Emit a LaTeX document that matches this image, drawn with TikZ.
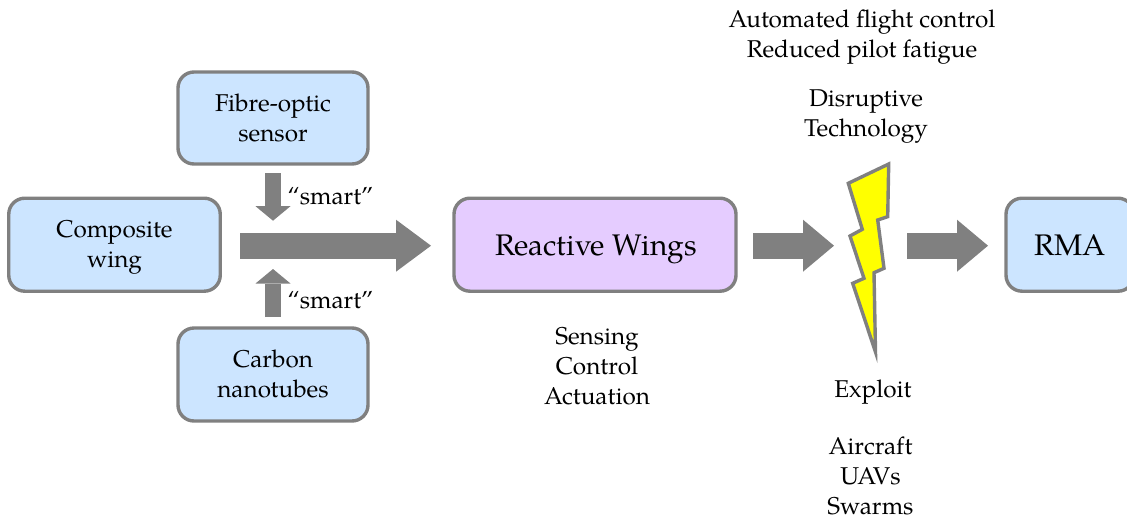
\documentclass[tikz,border=0pt]{standalone}
\usepackage{fontspec}
\usetikzlibrary{arrows.meta}
\setmainfont{TeX Gyre Pagella}
\definecolor{boxblue}{HTML}{CCE5FF}
\definecolor{boxpurple}{HTML}{E5CCFF}
\definecolor{linegray}{HTML}{808080}
\definecolor{boltyellow}{HTML}{FFFF00}
\newcommand{\boxtop}{\rule{0pt}{25pt}}
\newcommand{\bigtop}{\rule{0pt}{31pt}}
\tikzset{
  box/.style={draw=linegray,line width=3.4pt,rounded corners=16pt,fill=boxblue,align=center,inner sep=0pt,outer sep=0pt,font=\fontsize{24.3}{30}\selectfont},
  bigtext/.style={font=\fontsize{29.8}{34}\selectfont},
  label/.style={align=center,inner sep=0pt,font=\fontsize{24.3}{29.7}\selectfont},
  narrow/.style={draw=linegray,line width=16.5pt,-{Triangle[length=14.5pt,width=35pt,line width=0pt]}},
  wide/.style={draw=linegray,line width=26pt,-{Triangle[length=35pt,width=52pt,line width=0pt]}},
  wideshort/.style={draw=linegray,line width=26pt,-{Triangle[length=31pt,width=52pt,line width=0pt]}},
}
\begin{document}
\begin{tikzpicture}[x=1pt,y=-1pt]
\useasboundingbox (0,0) rectangle (1127,520);
\node[box,minimum width=211.5pt,minimum height=93pt] (comp) at (114.5,244.7) {\boxtop Composite\\wing\strut};
\node[box,minimum width=190pt,minimum height=92pt] (fibre) at (273,118) {\boxtop Fibre-optic\\sensor\strut};
\node[box,minimum width=190pt,minimum height=93pt] (carbon) at (273,374.5) {\boxtop Carbon\\nanotubes\strut};
\node[box,bigtext,fill=boxpurple,minimum width=282pt,minimum height=93pt] (react) at (595,244.7) {\bigtop\hspace{2pt}Reactive Wings\strut};
\node[box,bigtext,minimum width=128pt,minimum height=93pt] (rma) at (1070,244.7) {\bigtop RMA\strut};
\coordinate (mainTop) at (273,220.7);
\coordinate (mainBot) at (273,269);
\coordinate (boltL) at (834,245.7);
\coordinate (boltR) at (907,245.7);
\draw[wide,shorten <=20pt,shorten >=23pt] ([yshift=-1pt]comp.east) -- ([yshift=-1pt]react.west);
\draw[narrow,shorten <=9pt] (fibre.south) -- (mainTop);
\draw[narrow,shorten <=11pt] (carbon.north) -- (mainBot);
\draw[wideshort,shorten <=17pt] ([yshift=-1pt]react.east) -- (boltL);
\draw[wideshort,shorten >=18pt] (boltR) -- ([yshift=-1pt]rma.west);
\draw[draw=linegray,fill=boltyellow,line width=3.4pt,miter limit=20]
 (848.3,183.3) -- (888.7,164) -- (887.7,216.7) -- (877.7,220) -- (884,268.3) -- (874,272.7)
 -- (875.5,352) -- (852.7,283.3) -- (864,278.3) -- (850,236) -- (862.3,229.3) -- cycle;
\node[label] (smartA) at (330.5,198.5) {\strut “smart”};
\node[label] (smartB) at (330.5,302.5) {\strut “smart”};
\node[label] (benefits) at (862,36.5) {\strut Automated flight control\\Reduced pilot fatigue\strut};
\node[label] (disrupt) at (866,115.5) {\strut Disruptive\\Technology\strut};
\node[label] (sense) at (597,368.5) {\strut Sensing\\Control\\Actuation\strut};
\node[label] (exploit) at (873,392) {\strut Exploit};
\node[label] (uses) at (870.5,478.5) {\strut Aircraft\\UAVs\\Swarms\strut};
\end{tikzpicture}
\end{document}
